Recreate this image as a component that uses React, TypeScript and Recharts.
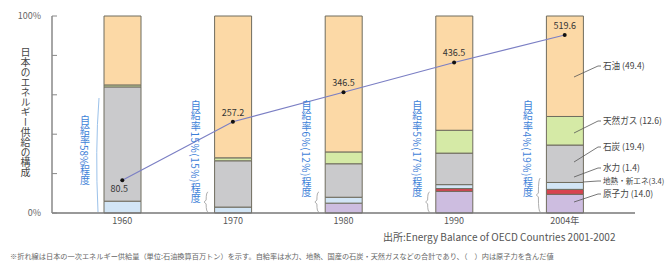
import React from 'react';
import { ComposedChart, Bar, Line, XAxis, YAxis, LabelList } from 'recharts';

const years = ['1960', '1970', '1980', '1990', '2004年'];
const nuclear = [0, 0, 5, 11, 9.5];
const newEnergy = [0, 0, 0, 1.4, 2.5];
const hydro = [6, 3, 3, 2, 3.5];
const coal = [58, 23.5, 17, 16, 19];
const gas = [1, 1.5, 6, 11.6, 14.5];
const oil = [35, 72, 69, 58, 51];
const totalSupply = [80.5, 257.2, 346.5, 436.5, 519.6];
const selfSufficiency = [
  '自給率58%程度',
  '自給率15%(15%)程度',
  '自給率6%(12%)程度',
  '自給率5%(17%)程度',
  '自給率4%(19%)程度',
];
const pctTicks = [0, 20, 40, 60, 80, 100];
const sourceLabels = ['石油 (49.4)', '天然ガス (12.6)', '石炭 (19.4)', '水力 (1.4)', '地熱・新エネ(3.4)', '原子力 (14.0)'];

const COLORS = {
  oil: '#fcd9a6',
  gas: '#d5eaa6',
  coal: '#cacacc',
  hydro: '#d2e5f5',
  newEnergy: '#d8434f',
  nuclear: '#cdbde0',
  edge: '#6f6c5e',
  line: '#7b7fc4',
  blue: '#3d7fd8',
};

const FONT = '"Noto Sans CJK JP", "Noto Sans", sans-serif';

const data = years.map((year, i) => ({
  year,
  nuclear: nuclear[i],
  newEnergy: newEnergy[i],
  hydro: hydro[i],
  coal: coal[i],
  gas: gas[i],
  oil: oil[i],
  total: totalSupply[i],
}));

function PctTick(props: any) {
  const { x, y, payload } = props;
  const v = payload.value;
  return (
    <g>
      <line x1={x} x2={x + 5} y1={y} y2={y} stroke="#888" strokeWidth={1} />
      {(v === 0 || v === 100) && (
        <text x={x - 11} y={y + 3} textAnchor="end" fontSize={9} fill="#666" fontFamily={FONT}>
          {v}%
        </text>
      )}
    </g>
  );
}

function ValueLabel(props: any) {
  const { x, y, value, index } = props;
  const first = index === 0;
  return (
    <text
      x={first ? x - 3 : x}
      y={first ? y + 12 : y - 6}
      textAnchor="middle"
      fontSize={9}
      fill="#333"
      fontFamily={FONT}
    >
      {Number(value).toFixed(1)}
    </text>
  );
}

// right-hand legend: [text y, leader start y]
const legendRows = [
  [66, 77],
  [121, 133],
  [147, 162],
  [168, 177],
  [181, 182],
  [194, 202],
];

export default function App() {
  const bandStart = 67;
  const band = 110.75;
  return (
    <div style={{ position: 'absolute', left: 0, top: 0, width: 668, height: 264, background: '#fff', fontFamily: FONT }}>
      <ComposedChart width={668} height={264} data={data} margin={{ top: 16, right: 33, bottom: 31, left: 0 }}>
        <XAxis
          dataKey="year"
          padding={{ left: 15, right: 15 }}
          height={20}
          tickLine={false}
          tickSize={0}
          tickMargin={5}
          stroke="#777"
          strokeWidth={1.5}
          tick={{ fontSize: 9, fill: '#555', fontFamily: FONT }}
        />
        <YAxis
          yAxisId="pct"
          domain={[0, 100]}
          ticks={pctTicks}
          width={52}
          tickSize={0}
          tickMargin={0}
          tickLine={false}
          stroke="#888"
          strokeWidth={1.5}
          tick={<PctTick />}
          interval={0}
        />
        <YAxis yAxisId="total" orientation="right" domain={[-18.5, 577]} width={0} hide />
        <Bar yAxisId="pct" dataKey="nuclear" stackId="s" fill={COLORS.nuclear} stroke={COLORS.edge} strokeWidth={1} barSize={37} isAnimationActive={false} />
        <Bar yAxisId="pct" dataKey="newEnergy" stackId="s" fill={COLORS.newEnergy} stroke={COLORS.edge} strokeWidth={1} barSize={37} isAnimationActive={false} />
        <Bar yAxisId="pct" dataKey="hydro" stackId="s" fill={COLORS.hydro} stroke={COLORS.edge} strokeWidth={1} barSize={37} isAnimationActive={false} />
        <Bar yAxisId="pct" dataKey="coal" stackId="s" fill={COLORS.coal} stroke={COLORS.edge} strokeWidth={1} barSize={37} isAnimationActive={false} />
        <Bar yAxisId="pct" dataKey="gas" stackId="s" fill={COLORS.gas} stroke={COLORS.edge} strokeWidth={1} barSize={37} isAnimationActive={false} />
        <Bar yAxisId="pct" dataKey="oil" stackId="s" fill={COLORS.oil} stroke={COLORS.edge} strokeWidth={1} barSize={37} isAnimationActive={false} />
        <Line
          yAxisId="total"
          dataKey="total"
          type="linear"
          stroke={COLORS.line}
          strokeWidth={1.2}
          dot={{ r: 2, fill: '#111', stroke: '#111', strokeWidth: 0 }}
          isAnimationActive={false}
        >
          <LabelList dataKey="total" content={<ValueLabel />} />
        </Line>
      </ComposedChart>

      {/* y axis title */}
      <div
        style={{
          position: 'absolute',
          left: 19,
          top: 47,
          writingMode: 'vertical-rl',
          fontSize: 10,
          lineHeight: '12px',
          color: '#444',
          whiteSpace: 'nowrap',
        }}
      >
        日本のエネルギー供給の構成
      </div>

      {/* self-sufficiency notes */}
      {selfSufficiency.map((t, i) => (
        <div
          key={t}
          style={{
            position: 'absolute',
            left: bandStart + band * (i + 0.5) - 44,
            top: i === 0 ? 115 : 100,
            writingMode: 'vertical-rl',
            fontSize: 10,
            letterSpacing: i === 0 ? 0 : 0.5,
            lineHeight: '12px',
            color: COLORS.blue,
            whiteSpace: 'nowrap',
          }}
        >
          {t}
        </div>
      ))}

      <svg width={668} height={264} style={{ position: 'absolute', left: 0, top: 0, pointerEvents: 'none' }}>
        {/* braces */}
        <path d="M99 98 Q95 150 98 212" fill="none" stroke="#9cc2ea" strokeWidth={1} />
        {[1, 2, 3, 4].map((i) => {
          const bx = bandStart + band * (i + 0.5) - 27;
          const top = i === 4 ? 178 : 192;
          return (
            <path
              key={i}
              d={`M${bx + 2} ${top} Q${bx} ${top} ${bx} ${(top + 212) / 2 - 2} L${bx - 2} ${(top + 212) / 2} L${bx} ${(top + 212) / 2 + 2} Q${bx} 212 ${bx + 2} 212`}
              fill="none"
              stroke="#999"
              strokeWidth={0.8}
            />
          );
        })}
        {/* 2004 legend leaders */}
        {legendRows.map(([ty, sy], i) => (
          <g key={i}>
            <line x1={i === 4 ? 583 : 574} y1={sy} x2={598} y2={ty} stroke="#555" strokeWidth={0.8} />
            <line x1={598} y1={ty} x2={601} y2={ty} stroke="#555" strokeWidth={0.8} />
            <text x={603} y={ty + 3} fontSize={i === 4 ? 7.6 : 8.6} fill="#444" fontFamily={FONT}>
              {sourceLabels[i]}
            </text>
          </g>
        ))}
        <text x={383} y={241} fontSize={10} fill="#555" fontFamily={FONT}>
          出所:Energy Balance of OECD Countries 2001-2002
        </text>
        <text x={10} y={259} fontSize={7.2} fill="#666" fontFamily={FONT}>
          ※折れ線は日本の一次エネルギー供給量（単位:石油換算百万トン）を示す。自給率は水力、地熱、国産の石炭・天然ガスなどの合計であり、（　）内は原子力を含んだ値
        </text>
      </svg>
    </div>
  );
}
